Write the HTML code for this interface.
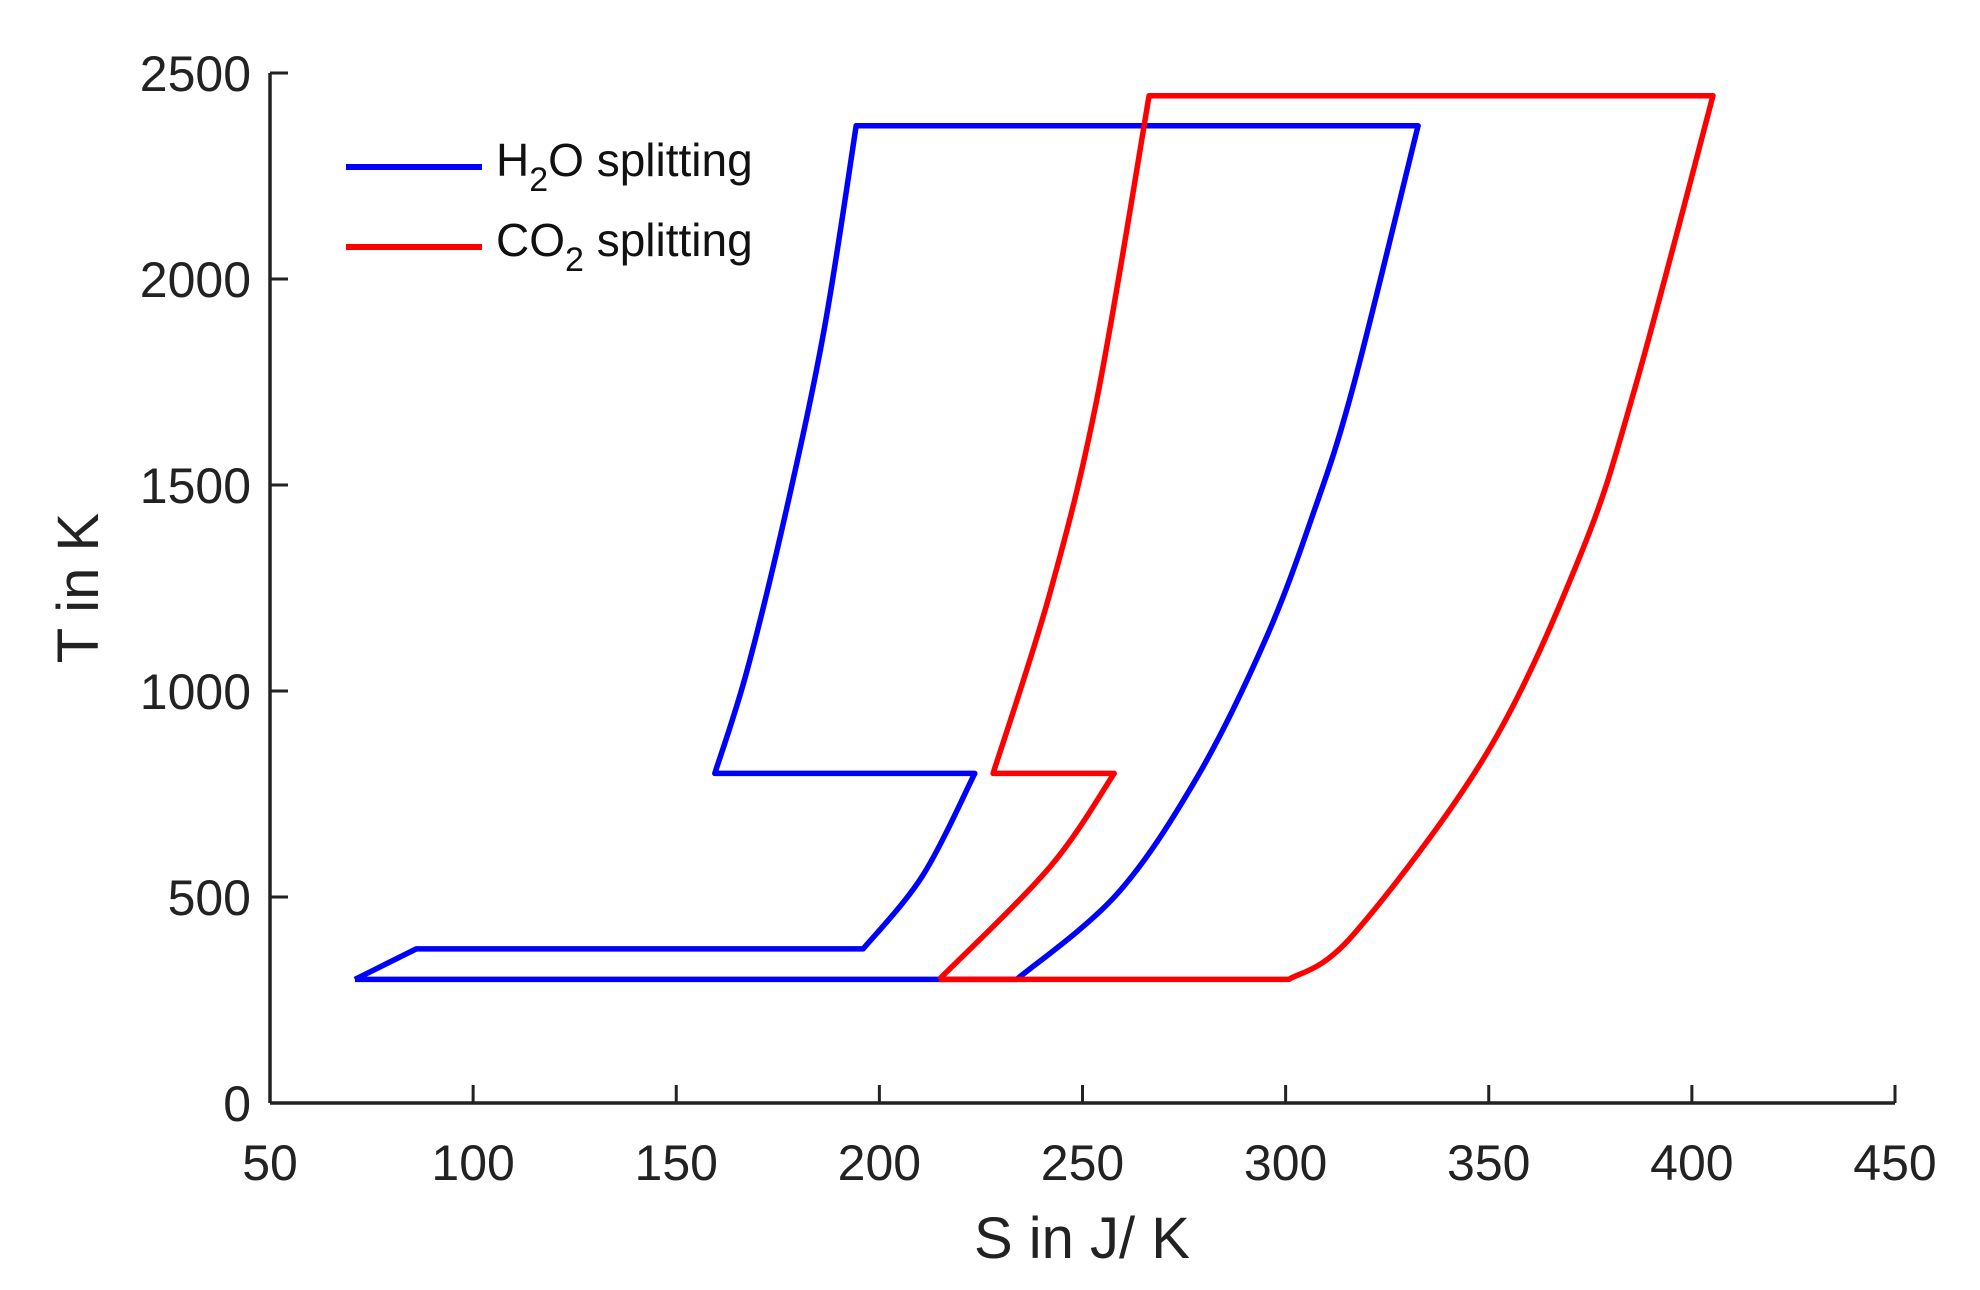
<!DOCTYPE html>
<html><head><meta charset="utf-8"><style>
html,body{margin:0;padding:0;background:#fff;}
svg{display:block;font-family:"Liberation Sans",Arial,sans-serif;}
</style></head><body>
<svg id="chart" width="1980" height="1290" viewBox="0 0 1980 1290" xmlns="http://www.w3.org/2000/svg">
<g id="axes"></g>
<g id="series"></g>
<g>
  <line x1="346" y1="167" x2="482" y2="167" stroke="#0000ff" stroke-width="6"/>
  <text x="496" y="176" font-size="46" fill="#111">H<tspan font-size="34" dy="15">2</tspan><tspan dy="-15">O splitting</tspan></text>
  <line x1="346" y1="247" x2="482" y2="247" stroke="#ff0000" stroke-width="6"/>
  <text x="496" y="256" font-size="46" fill="#111">CO<tspan font-size="34" dy="15">2</tspan><tspan dy="-15"> splitting</tspan></text>
</g>
<text x="1082" y="1258" font-size="58" text-anchor="middle" fill="#222">S in J/ K</text>
<text transform="translate(98,588) rotate(-90)" font-size="58" text-anchor="middle" fill="#222">T in K</text>
</svg>
<script>
const xTicks = [50,100,150,200,250,300,350,400,450];
const yTicks = [0,500,1000,1500,2000,2500];
const h2oS = [70.9,86,196,210.6,223.5,159.5,167.5,177.4,186.5,194.3,332.6,316.6,306.6,295,278.4,258.5,233.8,70.9];
const h2oT = [300,374,374,551,800,800,1052,1453,1882,2372,2372,1738,1425,1124,794,507,300,300];
const co2S = [214.7,242,257.8,228,242,253.6,266.4,405.2,386.1,372.9,349.7,316.6,300.8,214.7];
const co2T = [300,573,800,800,1238,1711,2445,2445,1739,1338,852,408,300,300];

const X0=270, X1=1895, Y0=1103, Y1=73;
function sx(v){return X0+(v-50)/(450-50)*(X1-X0);}
function sy(v){return Y0-v/2500*(Y0-Y1);}
const NS="http://www.w3.org/2000/svg";
const axes=document.getElementById('axes');
function mk(tag,attrs,parent){const e=document.createElementNS(NS,tag);for(const k in attrs)e.setAttribute(k,attrs[k]);parent.appendChild(e);return e;}
let l=mk('line',{x1:X0,y1:Y0,x2:X1,y2:Y0,stroke:'#222','stroke-width':3.5},axes);


l=mk('line',{x1:X0,y1:Y0,x2:X0,y2:Y1,stroke:'#222','stroke-width':3.5},axes);


xTicks.forEach(v=>{
  const t=mk('line',{x1:sx(v),y1:Y0,x2:sx(v),y2:Y0-18,stroke:'#222','stroke-width':3},axes);
  
  
  const tx=mk('text',{x:sx(v),y:1180,'font-size':50,'text-anchor':'middle',fill:'#222'},axes);
  tx.textContent=v;
  
  
});
yTicks.forEach(v=>{
  const t=mk('line',{x1:X0,y1:sy(v),x2:X0+18,y2:sy(v),stroke:'#222','stroke-width':3},axes);
  
  
  const tx=mk('text',{x:251,y:sy(v)+18,'font-size':50,'text-anchor':'end',fill:'#222'},axes);
  tx.textContent=v;
  
  
});
const series=document.getElementById('series');
function draw(S,T,color,name){
  const P=S.map((s,i)=>[sx(s),sy(T[i])]);
  const n=P.length;
  // segment i is from P[i] to P[i+1]; horizontal segments are straight, others smoothed within their run
  function horiz(i){return i>=0&&i<n-1&&T[i]===T[i+1];}
  let d='M'+P[0][0].toFixed(1)+','+P[0][1].toFixed(1);
  for(let i=0;i<n-1;i++){
    const a=P[i],b=P[i+1];
    if(horiz(i)){d+=' L'+b[0].toFixed(1)+','+b[1].toFixed(1);continue;}
    const p0=(i>0&&!horiz(i-1))?P[i-1]:a;
    const p3=(i+2<n&&!horiz(i+1))?P[i+2]:b;
    const c1=[a[0]+(b[0]-p0[0])/6,a[1]+(b[1]-p0[1])/6];
    const c2=[b[0]-(p3[0]-a[0])/6,b[1]-(p3[1]-a[1])/6];
    d+=' C'+c1[0].toFixed(1)+','+c1[1].toFixed(1)+' '+c2[0].toFixed(1)+','+c2[1].toFixed(1)+' '+b[0].toFixed(1)+','+b[1].toFixed(1);
  }
  const p=mk('path',{d:d,fill:'none',stroke:color,'stroke-width':5.5,'stroke-linejoin':'round'},series);
  
  
}
draw(h2oS,h2oT,'#0000ff','h2o-cycle-line');
draw(co2S,co2T,'#ff0000','co2-cycle-line');
</script>
</body></html>
